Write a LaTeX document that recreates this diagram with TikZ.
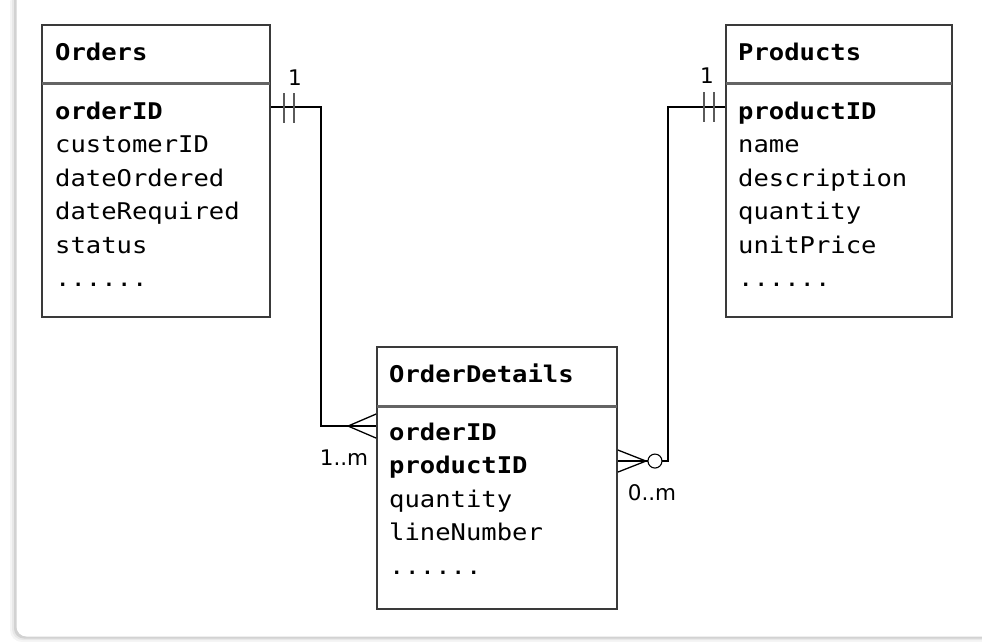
\documentclass[tikz,border=0pt]{standalone}
\usepackage{fontspec}
\usetikzlibrary{calc}
\newfontfamily\erfont{DejaVu Sans Mono}[FakeStretch=1.11]
\newfontfamily\lblfont{DejaVu Sans}
\definecolor{boxc}{HTML}{3A3A3A}
\definecolor{sepc}{HTML}{646464}
\definecolor{barc}{HTML}{5A5A5A}
\begin{document}
\begin{tikzpicture}[x=1pt,y=-1pt,
  tbl/.style={draw=boxc, line width=1.9pt, fill=white, inner sep=0pt},
  sepline/.style={draw=sepc, line width=3pt},
  fld/.style={anchor=base west, inner sep=0pt, font={\erfont\fontsize{23pt}{27pt}\selectfont}},
  key/.style={fld, font={\erfont\bfseries\fontsize{23pt}{27pt}\selectfont}},
  conn/.style={draw=black, line width=1.3pt},
  bar/.style={draw=barc, line width=2pt},
  mult/.style={inner sep=0pt, font={\lblfont\fontsize{21.5pt}{25pt}\selectfont}}]
\useasboundingbox (0,0) rectangle (982,642);
% card with shadow
\fill[gray!8, rounded corners=12pt] (10,-10) rectangle (1000,642);
\fill[gray!18, rounded corners=11pt] (12,-10) rectangle (1000,640);
\fill[gray!35, rounded corners=10pt] (14,-10) rectangle (1000,638.5);
\fill[white, rounded corners=10pt] (16.5,-10) rectangle (1000,636.5);

% tables
\node[tbl, minimum width=228pt, minimum height=292pt] (orders) at (156,171) {};
\node[tbl, minimum width=226pt, minimum height=292pt] (products) at (839,171) {};
\node[tbl, minimum width=240pt, minimum height=262pt] (od) at (497,478) {};

\draw[sepline] ($(orders.north west)+(1,59.5)$) -- ($(orders.north east)+(-1,59.5)$);
\draw[sepline] ($(products.north west)+(1,59.5)$) -- ($(products.north east)+(-1,59.5)$);
\draw[sepline] ($(od.north west)+(1,60)$) -- ($(od.north east)+(-1,60)$);

% Orders text
\node[key] (ot) at (55,60) {Orders};
\node[key] (o1) at (55,119) {orderID};
\node[fld] (o2) at (55,152.5) {customerID};
\node[fld] (o3) at (55,186) {dateOrdered};
\node[fld] (o4) at (55,219.5) {dateRequired};
\node[fld] (o5) at (55,253) {status};
\node[fld] (o6) at (55,286.5) {......};

% Products text
\node[key] (pt) at (738,60) {Products};
\node[key] (p1) at (738,119) {productID};
\node[fld] (p2) at (738,152.5) {name};
\node[fld] (p3) at (738,186) {description};
\node[fld] (p4) at (738,219.5) {quantity};
\node[fld] (p5) at (738,253) {unitPrice};
\node[fld] (p6) at (738,286.5) {......};

% OrderDetails text
\node[key] (dt) at (389,382) {OrderDetails};
\node[key] (d1) at (389,440) {orderID};
\node[key] (d2) at (389,473.5) {productID};
\node[fld] (d3) at (389,507) {quantity};
\node[fld] (d4) at (389,540.5) {lineNumber};
\node[fld] (d5) at (389,574) {......};

% connector Orders -> OrderDetails
\coordinate (a1) at ($(orders.north east)+(0,83)$);
\coordinate (b1) at ($(od.north west)+(0,80)$);
\draw[conn] (a1) -- ++(50,0) |- (b1);
\draw[conn] ($(b1)+(-28,0)$) -- ($(b1)+(0,-12)$);
\draw[conn] ($(b1)+(-28,0)$) -- ($(b1)+(0,12)$);
\draw[bar] ($(a1)+(13,-14)$) -- ($(a1)+(13,16)$);
\draw[bar] ($(a1)+(23,-14)$) -- ($(a1)+(23,16)$);
\node[mult] (m1) at (295,78) {1};
\node[mult] (m2) at (344,457.5) {1..m};

% connector Products -> OrderDetails
\coordinate (a2) at ($(products.north west)+(0,83)$);
\coordinate (b2) at ($(od.north east)+(0,115)$);
\draw[conn] (a2) -- ++(-57,0) |- ($(b2)+(44,0)$);
\draw[conn] ($(b2)+(30,0)$) -- (b2);
\draw[conn] ($(b2)+(28,0)$) -- ($(b2)+(0,-11)$);
\draw[conn] ($(b2)+(28,0)$) -- ($(b2)+(0,11)$);
\draw[conn, line width=1.1pt, fill=white] ($(b2)+(37,0)$) circle (7);
\draw[bar] ($(a2)+(-21,-15)$) -- ($(a2)+(-21,15)$);
\draw[bar] ($(a2)+(-11,-15)$) -- ($(a2)+(-11,15)$);
\node[mult] (m3) at (707,76) {1};
\node[mult] (m4) at (652,492.5) {0..m};
\end{tikzpicture}
\end{document}
